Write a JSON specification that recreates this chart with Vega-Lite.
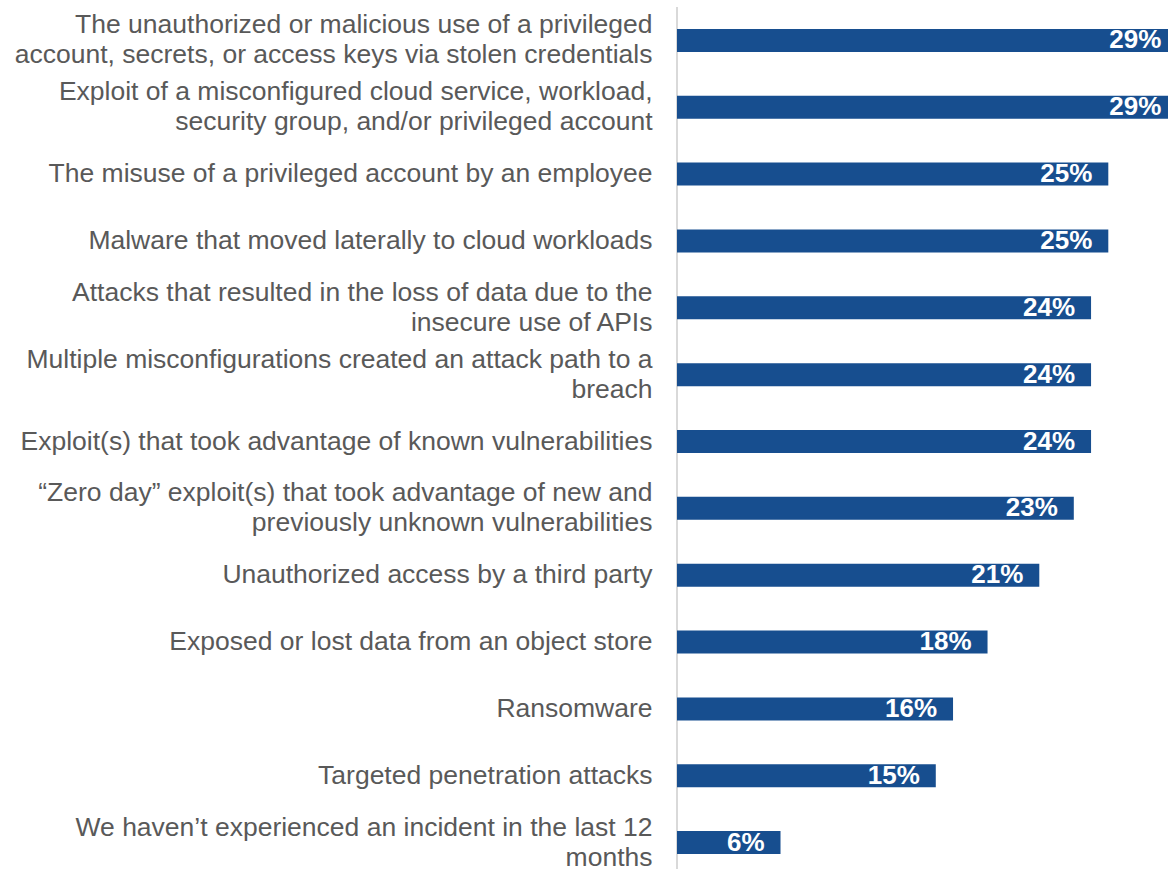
{
  "$schema": "https://vega.github.io/schema/vega-lite/v6.json",
  "autosize": "none",
  "width": 491,
  "height": 869,
  "padding": {"left": 677, "top": 0, "right": 0, "bottom": 0},
  "background": "white",
  "config": {"view": {"stroke": null}, "font": "Liberation Sans"},
  "data": {
    "values": [
      {"category": "The unauthorized or malicious use of a privileged|account, secrets, or access keys via stolen credentials", "value": 0.29},
      {"category": "Exploit of a misconfigured cloud service, workload,|security group, and/or privileged account", "value": 0.29},
      {"category": "The misuse of a privileged account by an employee", "value": 0.25},
      {"category": "Malware that moved laterally to cloud workloads", "value": 0.25},
      {"category": "Attacks that resulted in the loss of data due to the|insecure use of APIs", "value": 0.24},
      {"category": "Multiple misconfigurations created an attack path to a|breach", "value": 0.24},
      {"category": "Exploit(s) that took advantage of known vulnerabilities", "value": 0.24},
      {"category": "“Zero day” exploit(s) that took advantage of new and|previously unknown vulnerabilities", "value": 0.23},
      {"category": "Unauthorized access by a third party", "value": 0.21},
      {"category": "Exposed or lost data from an object store", "value": 0.18},
      {"category": "Ransomware", "value": 0.16},
      {"category": "Targeted penetration attacks", "value": 0.15},
      {"category": "We haven’t experienced an incident in the last 12|months", "value": 0.06}
    ]
  },
  "encoding": {
    "y": {
      "field": "category",
      "type": "nominal",
      "sort": null,
      "scale": {"paddingInner": 0.656, "paddingOuter": 0.328},
      "axis": {
        "title": null,
        "domain": false,
        "ticks": false,
        "labelExpr": "split(datum.value, '|')",
        "labelFont": "Liberation Sans",
        "labelFontSize": 26.5,
        "labelColor": "#595959",
        "labelLineHeight": 30,
        "labelPadding": 25,
        "labelLimit": 0,
        "labelOffset": {"condition": {"test": "indexof(datum.value, '|') >= 0", "value": -8}, "value": 7},
        "labelAlign": "right",
        "labelBaseline": "middle"
      }
    },
    "x": {
      "field": "value",
      "type": "quantitative",
      "scale": {"domain": [0, 0.2846], "nice": false, "zero": true},
      "axis": null
    }
  },
  "layer": [
    {
      "mark": {"type": "rule", "color": "#D9D9D9", "strokeWidth": 2, "yOffset": 7},
      "encoding": {"x": {"datum": 0}, "y": null}
    },
    {
      "mark": {"type": "bar", "color": "#174E8F", "yOffset": 7, "clip": true}
    },
    {
      "mark": {"type": "text", "color": "white", "fontWeight": "bold", "fontSize": 26, "align": "right", "baseline": "middle", "dx": -16, "yOffset": 7, "font": "Liberation Sans"},
      "encoding": {"text": {"field": "value", "type": "quantitative", "format": ".0%"}}
    }
  ]
}
